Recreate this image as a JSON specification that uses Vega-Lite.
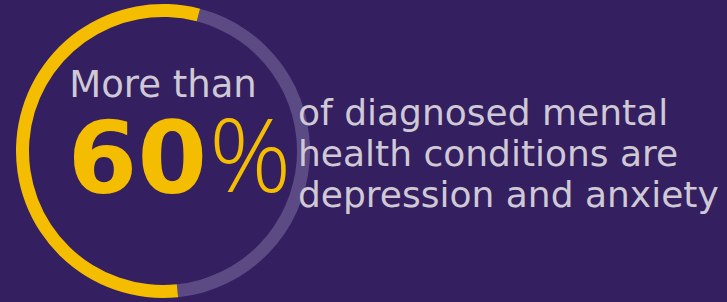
{
  "$schema": "https://vega.github.io/schema/vega-lite/v6.json",
  "width": 326,
  "height": 302,
  "padding": {"left": 0, "top": 0, "right": 120, "bottom": 0},
  "autosize": {"type": "pad"},
  "background": "#341f60",
  "config": {"view": {"stroke": null}},
  "layer": [
    {
      "data": {"values": [
        {"part": "other conditions", "share": 44.3, "order": 1},
        {"part": "depression and anxiety", "share": 55.7, "order": 2}
      ]},
      "mark": {"type": "arc", "radius": 147, "radius2": 134},
      "encoding": {
        "theta": {"field": "share", "type": "quantitative", "stack": true, "scale": {"range": [0.2548, 6.538]}},
        "order": {"field": "order", "type": "quantitative"},
        "color": {"field": "part", "type": "nominal", "legend": null,
          "scale": {"domain": ["other conditions", "depression and anxiety"], "range": ["#5c4a85", "#f5bd00"]}}
      }
    },
    {
      "data": {"values": [{"t": "More than"}]},
      "mark": {"type": "text", "align": "center", "baseline": "alphabetic", "dy": -54, "fontSize": 37, "font": "DejaVu Sans", "fontWeight": "normal", "color": "#cfc9d6"},
      "encoding": {"text": {"field": "t"}}
    },
    {
      "data": {"values": [{"t": "60"}]},
      "mark": {"type": "text", "align": "right", "baseline": "alphabetic", "dx": 44, "dy": 42, "fontSize": 100, "font": "DejaVu Sans", "fontWeight": "bold", "color": "#f5bd00"},
      "encoding": {"text": {"field": "t"}}
    },
    {
      "data": {"values": [{"t": "%"}]},
      "mark": {"type": "text", "align": "left", "baseline": "alphabetic", "dx": 46, "dy": 41, "fontSize": 102, "font": "Open Sans", "fontWeight": 300, "color": "#f5bd00"},
      "encoding": {"text": {"field": "t"}}
    },
    {
      "data": {"values": [{"t": "of diagnosed mental"}]},
      "mark": {"type": "text", "align": "left", "baseline": "alphabetic", "dx": 135, "dy": -26, "fontSize": 36, "font": "DejaVu Sans", "fontWeight": "normal", "color": "#cfc9d6"},
      "encoding": {"text": {"field": "t"}}
    },
    {
      "data": {"values": [{"t": "health conditions are"}]},
      "mark": {"type": "text", "align": "left", "baseline": "alphabetic", "dx": 135, "dy": 15, "fontSize": 36, "font": "DejaVu Sans", "fontWeight": "normal", "color": "#cfc9d6"},
      "encoding": {"text": {"field": "t"}}
    },
    {
      "data": {"values": [{"t": "depression and anxiety"}]},
      "mark": {"type": "text", "align": "left", "baseline": "alphabetic", "dx": 135, "dy": 56, "fontSize": 36, "font": "DejaVu Sans", "fontWeight": "normal", "color": "#cfc9d6"},
      "encoding": {"text": {"field": "t"}}
    }
  ]
}
